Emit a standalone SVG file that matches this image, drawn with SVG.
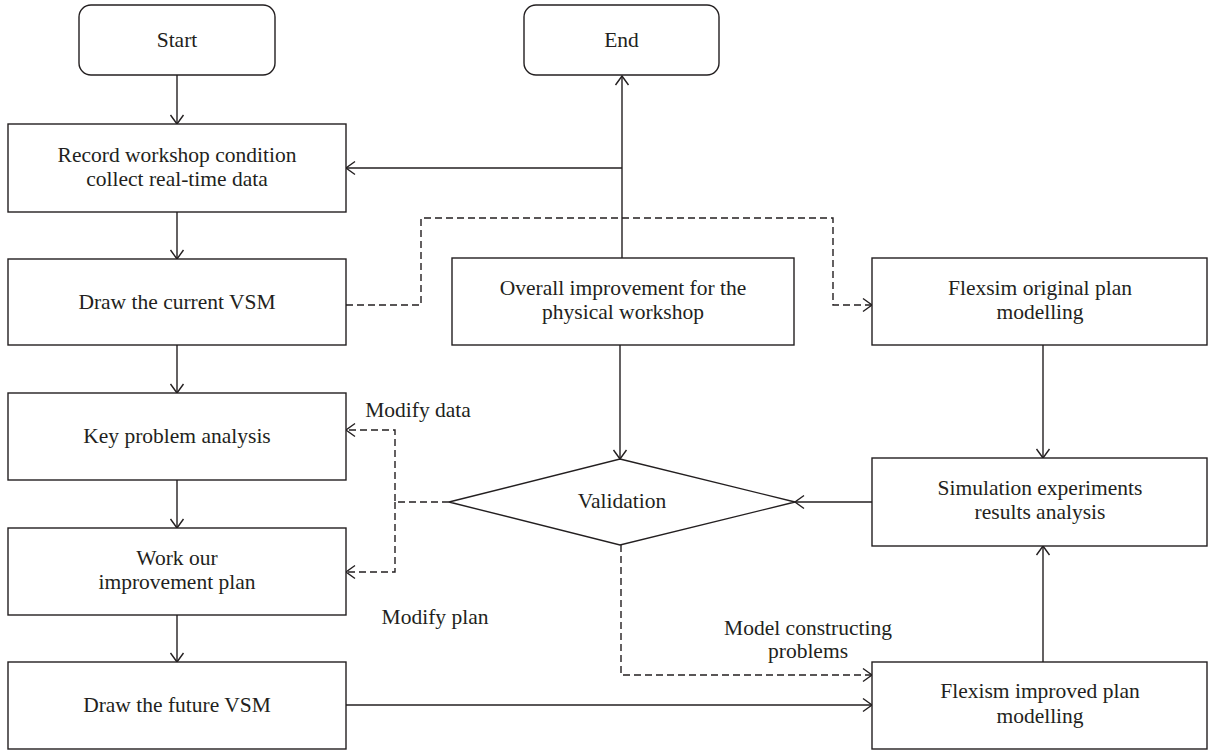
<svg xmlns="http://www.w3.org/2000/svg" width="1209" height="750" viewBox="0 0 1209 750">
<style>
.box{fill:#fff;stroke:#231f20;stroke-width:1.4}
.t{font-family:"Liberation Serif","Times New Roman",serif;font-size:21.5px;fill:#231f20;text-anchor:middle}
.c{fill:none;stroke:#231f20;stroke-width:1.4}
.d{stroke-dasharray:7 4}
</style>
<defs>
<marker id="ah" markerUnits="userSpaceOnUse" markerWidth="14" markerHeight="16" viewBox="-11 -8 13 16" refX="0" refY="0" orient="auto">
<path d="M-9,-6.5 L0,0 L-9,6.5" fill="none" stroke="#231f20" stroke-width="1.4"/>
</marker>
</defs>
<rect width="1209" height="750" fill="#fff"/>
<g id="connectors">
<line class="c" x1="177" y1="75" x2="177" y2="124" marker-end="url(#ah)"/>
<line class="c" x1="177" y1="212" x2="177" y2="259" marker-end="url(#ah)"/>
<line class="c" x1="177" y1="345" x2="177" y2="393" marker-end="url(#ah)"/>
<line class="c" x1="177" y1="480" x2="177" y2="528" marker-end="url(#ah)"/>
<line class="c" x1="177" y1="615" x2="177" y2="662" marker-end="url(#ah)"/>
<line class="c" x1="622" y1="258" x2="622" y2="76" marker-end="url(#ah)"/>
<polyline class="c" points="622,168 346,168" marker-end="url(#ah)"/>
<polyline class="c d" points="346,305 421,305 421,218 833,218 833,305 872,305" marker-end="url(#ah)"/>
<line class="c" x1="620" y1="345" x2="620" y2="459" marker-end="url(#ah)"/>
<line class="c" x1="1043" y1="345" x2="1043" y2="458" marker-end="url(#ah)"/>
<line class="c" x1="872" y1="502" x2="795" y2="502" marker-end="url(#ah)"/>
<polyline class="c d" points="449,502 395,502 395,430 346,430" marker-end="url(#ah)"/>
<polyline class="c d" points="395,502 395,572 346,572" marker-end="url(#ah)"/>
<polyline class="c d" points="621,545 621,675 872,675" marker-end="url(#ah)"/>
<line class="c" x1="346" y1="705" x2="872" y2="705" marker-end="url(#ah)"/>
<line class="c" x1="1043" y1="662" x2="1043" y2="546" marker-end="url(#ah)"/>
</g>
<g id="start"><rect class="box" x="79" y="5" width="196" height="70" rx="12"/><text class="t" x="177" y="47">Start</text></g>
<g id="end"><rect class="box" x="524" y="5" width="195" height="70" rx="12"/><text class="t" x="621.5" y="47">End</text></g>
<g id="record"><rect class="box" x="8" y="124" width="338" height="88"/><text class="t" x="177" y="162">Record workshop condition</text><text class="t" x="177" y="186">collect real-time data</text></g>
<g id="current"><rect class="box" x="8" y="259" width="338" height="86"/><text class="t" x="177" y="309">Draw the current VSM</text></g>
<g id="key"><rect class="box" x="8" y="393" width="338" height="87"/><text class="t" x="177" y="443">Key problem analysis</text></g>
<g id="work"><rect class="box" x="8" y="528" width="338" height="87"/><text class="t" x="177" y="565">Work our</text><text class="t" x="177" y="589">improvement plan</text></g>
<g id="future"><rect class="box" x="8" y="662" width="338" height="87"/><text class="t" x="177" y="712">Draw the future VSM</text></g>
<g id="overall"><rect class="box" x="452" y="258" width="342" height="87"/><text class="t" x="623" y="295">Overall improvement for the</text><text class="t" x="623" y="319">physical workshop</text></g>
<g id="original"><rect class="box" x="872" y="258" width="335" height="87"/><text class="t" x="1040" y="295">Flexsim original plan</text><text class="t" x="1040" y="319">modelling</text></g>
<g id="simulation"><rect class="box" x="872" y="458" width="335" height="88"/><text class="t" x="1040" y="495">Simulation experiments</text><text class="t" x="1040" y="519">results analysis</text></g>
<g id="improved"><rect class="box" x="872" y="662" width="335" height="87"/><text class="t" x="1040" y="698">Flexism improved plan</text><text class="t" x="1040" y="723">modelling</text></g>
<g id="validation"><polygon class="box" points="620,459 795,502 620,545 449,502"/><text class="t" x="622" y="508">Validation</text></g>
<g id="labels">
<text class="t" x="418" y="417">Modify data</text>
<text class="t" x="435" y="624">Modify plan</text>
<text class="t" x="808" y="635">Model constructing</text>
<text class="t" x="808" y="658">problems</text>
</g>
</svg>
